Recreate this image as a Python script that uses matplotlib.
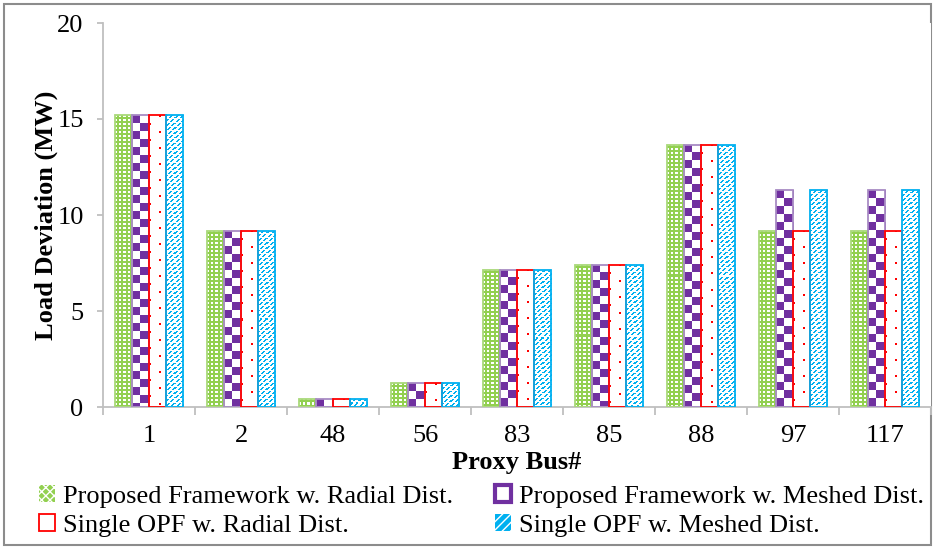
import numpy as np
import matplotlib
matplotlib.use('Agg')
import matplotlib.pyplot as plt
from matplotlib.patches import Patch, Rectangle

# data
buses = ['1', '2', '48', '56', '83', '85', '88', '97', '117']
pf_radial = [15.2, 9.17, 0.44, 1.25, 7.14, 7.4, 13.65, 9.17, 9.17]
pf_meshed = [15.2, 9.17, 0.44, 1.25, 7.14, 7.4, 13.65, 11.3, 11.3]
opf_radial = [15.2, 9.17, 0.44, 1.25, 7.14, 7.4, 13.65, 9.17, 9.17]
opf_meshed = [15.2, 9.17, 0.44, 1.25, 7.14, 7.4, 13.65, 11.3, 11.3]

series_names = ['Proposed Framework w. Radial Dist.',
                'Proposed Framework w. Meshed Dist.',
                'Single OPF w. Radial Dist.',
                'Single OPF w. Meshed Dist.']

GREEN = '#92D050'
PURPLE = '#7030A0'
RED = '#FF0000'
BLUE = '#00B0F0'

plt.rcParams['font.family'] = ['Liberation Serif', 'DejaVu Serif']

W, H, DPI = 935, 548, 100
fig = plt.figure(figsize=(W / DPI, H / DPI), dpi=DPI)
ax_l, ax_r, ax_t, ax_b = 103, 931, 23, 407
ax = fig.add_axes([ax_l / W, 1 - ax_b / H, (ax_r - ax_l) / W, (ax_b - ax_t) / H])

ymax = 20
ncat = len(buses)
px_x = (ax_r - ax_l) / ncat      # pixels per category
px_y = (ax_b - ax_t) / ymax      # pixels per MW


def to_rgb(c):
    return np.array(matplotlib.colors.to_rgb(c))


def texture(kind, rows, cols):
    ii, jj = np.mgrid[0:rows, 0:cols]
    img = np.ones((rows, cols, 3))
    if kind == 'green':
        white = ((ii // 2) % 2 == 0) & ((jj // 2) % 2 == 0)
        img[~white] = to_rgb(GREEN)
    elif kind == 'purple':
        m = ((ii // 8 + jj // 8) % 2) == 0
        img[m] = to_rgb(PURPLE)
    elif kind == 'red':
        m = (((ii % 16) < 2) & ((jj >= 9) & (jj <= 10))) | \
            ((((ii + 8) % 16) < 2) & (jj <= 1))
        img[m] = to_rgb(RED)
    elif kind == 'blue':
        m = (((ii + jj) % 5) < 2) & ((ii % 4) != 3)
        img[m] = to_rgb(BLUE)
    return img


x = np.arange(ncat)
bw = 0.185
all_series = [pf_radial, pf_meshed, opf_radial, opf_meshed]
kinds = ['green', 'purple', 'red', 'blue']
edges = ['#A9D97A', '#A88BC4', RED, BLUE]

for k, (vals, kind, ec) in enumerate(zip(all_series, kinds, edges)):
    off = (k - 1.5) * bw
    bars = ax.bar(x + off, vals, width=bw, facecolor='none', edgecolor=ec,
                  linewidth=1.3, zorder=3)
    for b in bars:
        bx, bh = b.get_x(), b.get_height()
        rows = max(int(round(bh * px_y)), 1)
        cols = max(int(round(bw * px_x)), 1)
        im = ax.imshow(texture(kind, rows, cols), extent=(bx, bx + bw, 0, bh),
                       interpolation='nearest', aspect='auto', zorder=2)
        im.set_clip_path(b)

ax.set_xlim(-0.5, ncat - 0.5)
ax.set_ylim(0, ymax)
ax.set_yticks([0, 5, 10, 15, 20])
ax.set_xticks(np.arange(-0.5, ncat, 1.0))
ax.set_xticklabels([])
ax.set_xticks(x, minor=True)
ax.set_xticklabels(buses, minor=True)

for s in ['top', 'right']:
    ax.spines[s].set_visible(False)
for s in ['left', 'bottom']:
    ax.spines[s].set_color('#BFBFBF')
    ax.spines[s].set_linewidth(1.3)

ax.tick_params(axis='y', length=4, width=1.3, color='#BFBFBF', labelsize=19, pad=10)
ax.tick_params(axis='x', which='major', length=6, width=1.3, color='#BFBFBF')
ax.tick_params(axis='x', which='minor', length=0, labelsize=19, pad=13)

ax.set_ylabel('Load Deviation (MW)', fontsize=19, fontweight='bold')
ax.yaxis.set_label_coords((46 - ax_l) / (ax_r - ax_l), 0.5)
ax.yaxis.label.set_va('center')
ax.set_xlabel('Proxy Bus#', fontsize=19, fontweight='bold')
ax.xaxis.set_label_coords(0.5, -(463 - ax_b) / (ax_b - ax_t))
ax.xaxis.label.set_va('center')

handles = [
    Patch(facecolor=GREEN, edgecolor='white', hatch='xxxx', linewidth=0),
    Patch(facecolor='white', edgecolor=RED, linewidth=1.3),
    Patch(facecolor='white', edgecolor=PURPLE, linewidth=3),
    Patch(facecolor=BLUE, edgecolor='white', hatch='////', linewidth=0),
]
labels = [series_names[0], series_names[2], series_names[1], series_names[3]]
fig.legend(handles, labels, ncol=2, frameon=False, fontsize=19,
           loc='upper left', bbox_to_anchor=(26 / W, 1 - 472 / H),
           handlelength=0.6, handleheight=0.6, handletextpad=0.3,
           columnspacing=1.6, labelspacing=0.25, borderpad=0)

fig.patches.append(Rectangle((4 / W, 3 / H), 927 / W, 541 / H, transform=fig.transFigure,
                             fill=False, edgecolor='#8C8C8C', linewidth=1.5, zorder=-1))

fig.savefig('out.png', dpi=DPI)
